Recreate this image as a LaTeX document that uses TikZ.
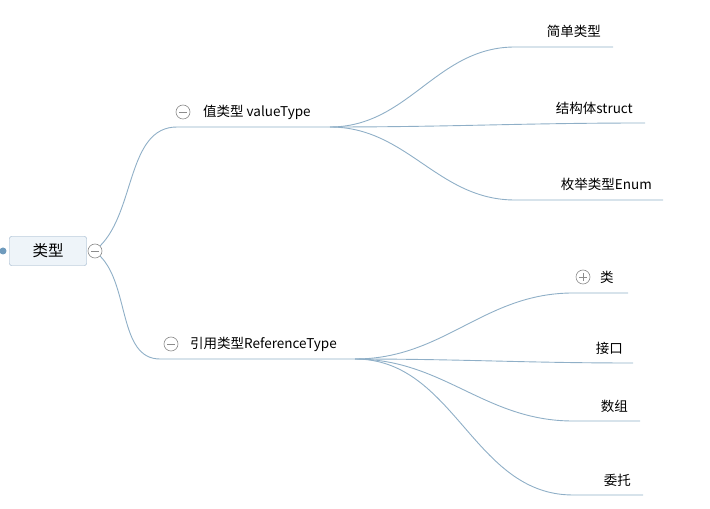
\documentclass[tikz,border=0pt]{standalone}
\usepackage{fontspec}
\setmainfont{Noto Sans CJK SC}
\usepackage{xcolor}
\usetikzlibrary{positioning}

\definecolor{linkblue}{RGB}{143,175,199}
\definecolor{dotblue}{RGB}{111,155,189}
\definecolor{rootfill}{RGB}{238,244,249}
\definecolor{rootedge}{RGB}{142,170,196}
\definecolor{knobgray}{RGB}{140,140,140}

\begin{document}
\begin{tikzpicture}[x=1pt, y=1pt,
    root/.style={draw=rootedge, fill=rootfill, rounded corners=2pt, minimum width=77pt, minimum height=29pt, font=\fontsize{15.5}{17}\selectfont, inner sep=0pt},
    topic/.style={font=\fontsize{13.5}{15}\selectfont, inner sep=0pt},
    knob/.style={circle, draw=knobgray, fill=white, minimum size=14pt, inner sep=0pt, line width=0.6pt},
    collapse/.style={knob, path picture={\draw[knobgray, line width=0.6pt] ([xshift=3pt]path picture bounding box.west) -- ([xshift=-3pt]path picture bounding box.east);}},
    expand/.style={knob, path picture={\draw[knobgray, line width=0.6pt] ([xshift=3pt]path picture bounding box.west) -- ([xshift=-3pt]path picture bounding box.east) ([yshift=-3pt]path picture bounding box.north) -- ([yshift=3pt]path picture bounding box.south);}},
    link/.style={draw=linkblue, line width=0.9pt},
]
\useasboundingbox (0,0) rectangle (710,509);

% root
\node[root] (root) at (48,258) {类型};
\node[circle, fill=dotblue, minimum size=7pt, inner sep=0pt] (rootdot) at (3,258) {};
\node[collapse] (rootknob) at (95,258) {};

% main branches
\coordinate (vt-l) at (177,382);
\coordinate (vt-r) at (330,382);
\node[collapse] (vtknob) at (183,397) {};
\node[topic, anchor=west] (vt) at (203,397) {值类型 valueType};

\coordinate (rt-l) at (160,150);
\coordinate (rt-r) at (355,150);
\node[collapse] (rtknob) at (171,165) {};
\node[topic, anchor=west] (rt) at (190,165) {引用类型ReferenceType};

% value type leaves
\coordinate (simple-l) at (515,462);
\coordinate (simple-r) at (613,462);
\node[topic, anchor=east] (simple) at (601,478) {简单类型};
\coordinate (struct-r) at (645,386);
\node[topic, anchor=east] (struct) at (633,401) {结构体struct};
\coordinate (enum-l) at (515,309);
\coordinate (enum-r) at (663,309);
\node[topic, anchor=east] (enum) at (652,325) {枚举类型Enum};

% reference type leaves
\coordinate (class-l) at (573,216);
\coordinate (class-r) at (628,216);
\node[expand] (classknob) at (583,232) {};
\node[topic, anchor=west] (class) at (600,232) {类};
\coordinate (iface-r) at (633,146);
\node[topic, anchor=east] (iface) at (623,161) {接口};
\coordinate (array-l) at (573,88);
\coordinate (array-r) at (640,88);
\node[topic, anchor=east] (array) at (628,103) {数组};
\coordinate (deleg-l) at (573,14);
\coordinate (deleg-r) at (643,14);
\node[topic, anchor=east] (deleg) at (631,29) {委托};

% connectors
\draw[link] (rootknob.north east) to[out=45, in=180, looseness=0.9] (vt-l) -- (vt-r);
\draw[link] (rootknob.south east) to[out=-45, in=180, looseness=0.9] (rt-l) -- (rt-r);
\draw[link] (vt-r) to[out=0, in=180] (simple-l) -- (simple-r);
\draw[link] (vt-r) to[out=0, in=180] (struct-r);
\draw[link] (vt-r) to[out=0, in=180] (enum-l) -- (enum-r);
\draw[link] (rt-r) to[out=0, in=180] (class-l) -- (class-r);
\draw[link] (rt-r) to[out=0, in=180] (iface-r);
\draw[link] (rt-r) to[out=0, in=180] (array-l) -- (array-r);
\draw[link] (rt-r) to[out=0, in=180] (deleg-l) -- (deleg-r);
\end{tikzpicture}
\end{document}
